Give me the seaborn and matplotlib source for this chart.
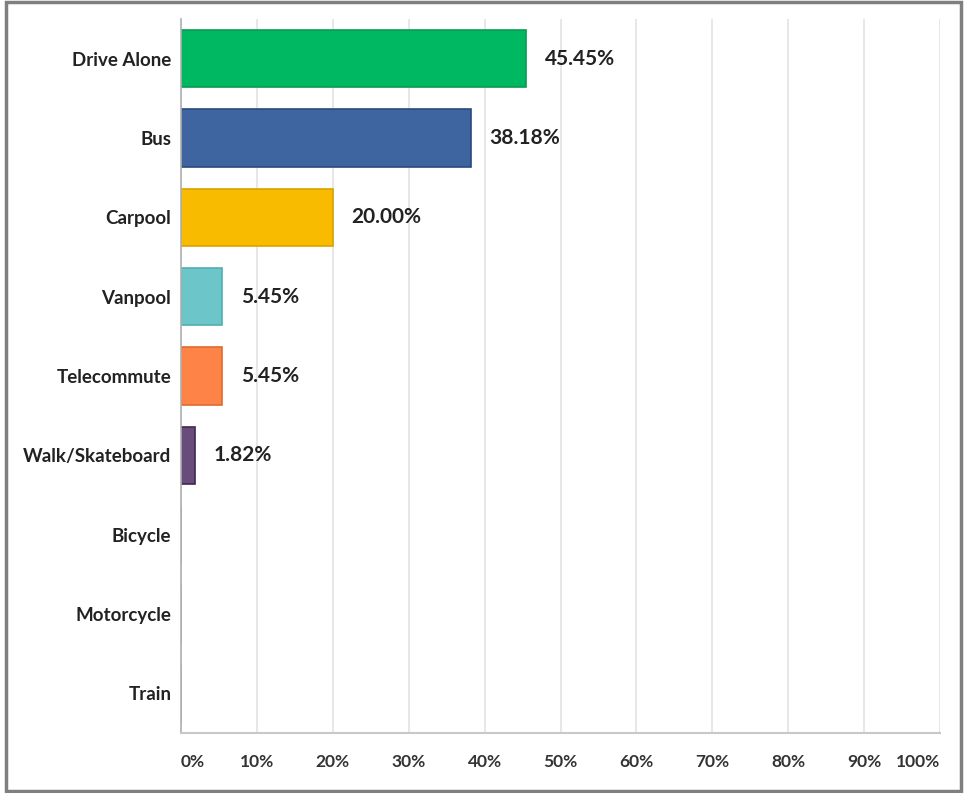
import matplotlib
matplotlib.use("Agg")
import matplotlib.pyplot as plt
import seaborn as sns
import pandas as pd
from matplotlib.patches import Rectangle

categories = ["Drive Alone", "Bus", "Carpool", "Vanpool", "Telecommute",
              "Walk/Skateboard", "Bicycle", "Motorcycle", "Train"]
percentages = [45.45, 38.18, 20.00, 5.45, 5.45, 1.82, 0.0, 0.0, 0.0]
bar_colors = ["#00b862", "#3e65a0", "#f8bb00", "#6cc6c9", "#fd8446",
              "#6a4c7c", "#999999", "#999999", "#999999"]
edge_colors = ["#0a9a55", "#2a4a7c", "#d9a300", "#52aeb2", "#e06a30",
               "#3f2a50", "#999999", "#999999", "#999999"]
tick_values = [0, 10, 20, 30, 40, 50, 60, 70, 80, 90, 100]
tick_labels = [f"{v}%" for v in tick_values]

df = pd.DataFrame({"mode": categories, "pct": percentages})

sns.set_style("white")
plt.rcParams["font.family"] = ["Lato", "DejaVu Sans"]

fig = plt.figure(figsize=(9.65, 7.93), dpi=100)
ax = fig.add_axes([0.1876, 0.0757, 0.9741 - 0.1876, 0.976 - 0.0757])

sns.barplot(data=df, x="pct", y="mode", hue="mode", palette=bar_colors,
            order=categories, hue_order=categories, legend=False,
            width=0.72, saturation=1, ax=ax, orient="h")

for patch, ec in zip(ax.patches, edge_colors):
    patch.set_edgecolor(ec)
    patch.set_linewidth(1.2)

for i, v in enumerate(percentages):
    if v > 0:
        ax.annotate(f"{v:.2f}%", xy=(v, i), xytext=(13.5, 0),
                    textcoords="offset points", va="center", ha="left",
                    fontsize=15, fontweight="bold", color="#222222")

ax.set_xlim(0, 100)
ax.set_ylim(8.5, -0.5)
ax.set_xlabel("")
ax.set_ylabel("")
ax.set_xticks(tick_values)
ax.set_xticklabels(tick_labels)
for lbl, v in zip(ax.get_xticklabels(), tick_values):
    lbl.set_fontsize(12.5)
    lbl.set_fontweight("bold")
    lbl.set_color("#333333")
    if v == 0:
        lbl.set_horizontalalignment("left")
    elif v == 100:
        lbl.set_horizontalalignment("right")
ax.tick_params(axis="x", length=0, pad=15)
ax.tick_params(axis="y", length=0, pad=7)
for lbl in ax.get_yticklabels():
    lbl.set_fontsize(13.5)
    lbl.set_fontweight("bold")
    lbl.set_color("#222222")

ax.xaxis.grid(True, color="#e3e3e3", linewidth=1.2)
ax.set_axisbelow(True)
for side in ["top", "right"]:
    ax.spines[side].set_visible(False)
ax.spines["left"].set_color("#b0b0b0")
ax.spines["bottom"].set_color("#c8c8c8")
ax.spines["left"].set_linewidth(1.2)
ax.spines["bottom"].set_linewidth(1.5)

fig.patches.append(Rectangle((0.006, 0.003), 0.99, 0.994, transform=fig.transFigure,
                             fill=False, edgecolor="#7f7f7f", linewidth=2.5))

fig.savefig("out.png", dpi=100)
